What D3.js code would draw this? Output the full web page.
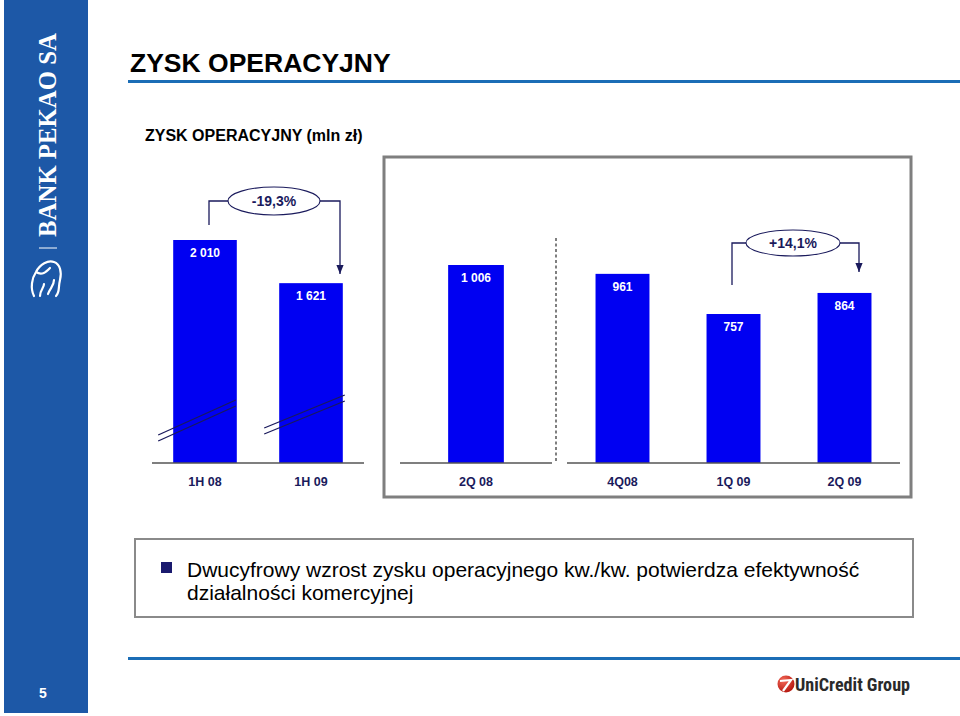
<!DOCTYPE html>
<html><head><meta charset="utf-8">
<script src="https://cdn.jsdelivr.net/npm/d3@7"></script>
<style>body{margin:0;background:#fff}svg{display:block}</style>
</head><body>
<script>
// ---- data ----
const leftCats = ["1H 08", "1H 09"];
const leftVals = [2010, 1621];
const leftLabels = ["2 010", "1 621"];
const midCats = ["2Q 08"];
const midVals = [1006];
const midLabels = ["1 006"];
const rightCats = ["4Q08", "1Q 09", "2Q 09"];
const rightVals = [961, 757, 864];
const rightLabels = ["961", "757", "864"];
const changeLabels = ["-19,3%", "+14,1%"];

const W = 960, H = 716;
const navy = "#1a1a5c", barBlue = "#0000f2", lineBlue = "#1b6db6";
const svg = d3.select("body").append("svg").attr("width", W).attr("height", H);
const font = "'Liberation Sans', Arial, sans-serif";

// sidebar
svg.append("rect").attr("x", 4).attr("y", 0).attr("width", 84).attr("height", 713).attr("fill", "#1d58a7");
svg.append("text").attr("transform", "translate(56,237) rotate(-90)")
  .attr("font-family", "'Liberation Serif','DejaVu Serif',serif").attr("font-weight", "bold")
  .attr("font-size", 26).attr("fill", "#fff").attr("textLength", 204).attr("lengthAdjust", "spacingAndGlyphs")
  .text("BANK PEKAO SA");
svg.append("line").attr("x1", 39).attr("x2", 57).attr("y1", 248).attr("y2", 248).attr("stroke", "#fff").attr("stroke-width", 1);
// stylised logo
svg.append("path").attr("d", "M34,296 C30,288 32,278 36,272 C40,264 48,260 54,262 C60,264 62,272 60,280 C58,288 60,292 56,296 M40,296 C40,290 44,288 44,284 M48,294 C50,288 54,286 54,280 M36,272 C42,276 46,272 50,268")
  .attr("fill", "none").attr("stroke", "#fff").attr("stroke-width", 2.2).attr("stroke-linecap", "round");
svg.append("text").attr("x", 43).attr("y", 698).attr("text-anchor", "middle")
  .attr("font-family", font).attr("font-weight", "bold").attr("font-size", 14).attr("fill", "#fff").text("5");

// title
svg.append("text").attr("x", 130).attr("y", 72).attr("font-family", font).attr("font-weight", "bold")
  .attr("font-size", 26.5).attr("fill", "#000").text("ZYSK OPERACYJNY");
svg.append("rect").attr("x", 128).attr("y", 80).attr("width", 832).attr("height", 3).attr("fill", lineBlue);
svg.append("text").attr("x", 145).attr("y", 141).attr("font-family", font).attr("font-weight", "bold")
  .attr("font-size", 16).attr("fill", "#000").text("ZYSK OPERACYJNY (mln zł)");

const baseY = 463;

// ---- left chart ----
const xL = d3.scaleBand().domain(leftCats).range([152, 364]).paddingInner(0.4).paddingOuter(0.2);
const yL = d3.scaleLinear().domain([0, 2010]).range([baseY, 240]);
const gL = svg.append("g");
gL.selectAll("rect").data(leftVals).join("rect")
  .attr("x", (d, i) => xL(leftCats[i])).attr("width", xL.bandwidth())
  .attr("y", d => yL(d)).attr("height", d => baseY - yL(d)).attr("fill", barBlue);
gL.append("line").attr("x1", 152).attr("x2", 364).attr("y1", baseY).attr("y2", baseY).attr("stroke", "#555").attr("stroke-width", 1.5);
// axis break marks
const breaks = [{y1: 435, y2: 400}, {y1: 428, y2: 395}];
breaks.forEach((b, i) => {
  const x0 = xL(leftCats[i]) - 15, x1 = xL(leftCats[i]) + xL.bandwidth() + (i ? 2 : -1);
  [0, 6].forEach(off => {
    gL.append("line").attr("x1", x0).attr("y1", b.y1 + off).attr("x2", x1).attr("y2", b.y2 + off)
      .attr("stroke", navy).attr("stroke-width", 1.3);
  });
});

// ---- right chart box ----
svg.append("rect").attr("x", 384).attr("y", 157).attr("width", 527).attr("height", 340)
  .attr("fill", "none").attr("stroke", "#7f7f7f").attr("stroke-width", 3);
const xA = d3.scaleBand().domain(midCats).range([400, 552]).paddingInner(0.514).paddingOuter(0.42);
const xB = d3.scaleBand().domain(rightCats).range([567, 900]).paddingInner(0.514).paddingOuter(0.257);
const yR = d3.scaleLinear().domain([0, 1006]).range([baseY, 265]);
const gR = svg.append("g");
const drawBars = (g, cats, vals, xs, ys) => {
  g.append("g").selectAll("rect").data(vals).join("rect")
    .attr("x", (d, i) => xs(cats[i])).attr("width", xs.bandwidth())
    .attr("y", d => ys(d)).attr("height", d => baseY - ys(d)).attr("fill", barBlue);
};
drawBars(gR, midCats, midVals, xA, yR);
drawBars(gR, rightCats, rightVals, xB, yR);
gR.append("line").attr("x1", 400).attr("x2", 552).attr("y1", baseY).attr("y2", baseY).attr("stroke", "#555").attr("stroke-width", 1.5);
gR.append("line").attr("x1", 567).attr("x2", 900).attr("y1", baseY).attr("y2", baseY).attr("stroke", "#555").attr("stroke-width", 1.5);
gR.append("line").attr("x1", 556).attr("x2", 556).attr("y1", 238).attr("y2", baseY).attr("stroke", "#555")
  .attr("stroke-width", 1.5).attr("stroke-dasharray", "3,2.5");

// value labels and category labels
const labelSets = [
  [leftCats, leftVals, leftLabels, xL, yL],
  [midCats, midVals, midLabels, xA, yR],
  [rightCats, rightVals, rightLabels, xB, yR]
];
labelSets.forEach(([cats, vals, labs, xs, ys]) => {
  cats.forEach((c, i) => {
    const cx = xs(c) + xs.bandwidth() / 2;
    svg.append("text").attr("x", cx).attr("y", ys(vals[i]) + 17).attr("text-anchor", "middle")
      .attr("font-family", font).attr("font-weight", "bold").attr("font-size", 12).attr("fill", "#fff").text(labs[i]);
    svg.append("text").attr("x", cx).attr("y", 486).attr("text-anchor", "middle")
      .attr("font-family", font).attr("font-weight", "bold").attr("font-size", 12.5).attr("fill", navy).text(c);
  });
});

// change annotations
svg.append("defs").append("marker").attr("id", "arr").attr("viewBox", "0 0 10 10").attr("refX", 10).attr("refY", 5)
  .attr("markerWidth", 7).attr("markerHeight", 7).attr("orient", "auto")
  .append("path").attr("d", "M0,1 L10,5 L0,9 Z").attr("fill", navy);
const ann = [
  {cx: 274, cy: 201, rx: 46, ry: 14, lx: 209, ly: 225, rX: 340, rY: 274, label: changeLabels[0]},
  {cx: 793, cy: 243, rx: 47, ry: 13, lx: 732, ly: 285, rX: 859, rY: 272, label: changeLabels[1]}
];
ann.forEach(a => {
  svg.append("path").attr("d", `M${a.lx},${a.ly} V${a.cy} H${a.cx - a.rx}`).attr("fill", "none").attr("stroke", navy).attr("stroke-width", 1.3);
  svg.append("path").attr("d", `M${a.cx + a.rx},${a.cy} H${a.rX} V${a.rY}`).attr("fill", "none").attr("stroke", navy)
    .attr("stroke-width", 1.3).attr("marker-end", "url(#arr)");
  svg.append("ellipse").attr("cx", a.cx).attr("cy", a.cy).attr("rx", a.rx).attr("ry", a.ry)
    .attr("fill", "#fff").attr("stroke", navy).attr("stroke-width", 1.1);
  svg.append("text").attr("x", a.cx).attr("y", a.cy + 5).attr("text-anchor", "middle")
    .attr("font-family", font).attr("font-weight", "bold").attr("font-size", 14).attr("fill", navy).text(a.label);
});

// bullet text box
svg.append("rect").attr("x", 135).attr("y", 539).attr("width", 778).attr("height", 78)
  .attr("fill", "#fff").attr("stroke", "#8a8a8a").attr("stroke-width", 2);
svg.append("rect").attr("x", 161).attr("y", 562).attr("width", 11).attr("height", 11).attr("fill", "#1a1a6e");
svg.append("text").attr("x", 187).attr("y", 577).attr("font-family", font).attr("font-size", 21).attr("fill", "#000")
  .text("Dwucyfrowy wzrost zysku operacyjnego kw./kw. potwierdza efektywność");
svg.append("text").attr("x", 187).attr("y", 600).attr("font-family", font).attr("font-size", 21).attr("fill", "#000")
  .text("działalności komercyjnej");

// footer
svg.append("rect").attr("x", 128).attr("y", 657).attr("width", 832).attr("height", 3).attr("fill", lineBlue);
const grad = svg.select("defs").append("radialGradient").attr("id", "ug").attr("cx", "35%").attr("cy", "30%").attr("r", "75%");
grad.append("stop").attr("offset", "0%").attr("stop-color", "#f46a5a");
grad.append("stop").attr("offset", "100%").attr("stop-color", "#b3140c");
svg.append("circle").attr("cx", 786).attr("cy", 684).attr("r", 8.5).attr("fill", "url(#ug)");
svg.append("path").attr("d", "M780,681 L791,680 L783,691").attr("fill", "none").attr("stroke", "#fff").attr("stroke-width", 2.2);
svg.append("text").attr("x", 795).attr("y", 691).attr("font-family", "'Liberation Sans Narrow','Roboto Condensed','Liberation Sans',sans-serif")
  .attr("font-size", 19).attr("font-weight", "bold").attr("fill", "#2a2a2a").attr("textLength", 115).attr("lengthAdjust", "spacingAndGlyphs").text("UniCredit Group");
</script>
</body></html>
